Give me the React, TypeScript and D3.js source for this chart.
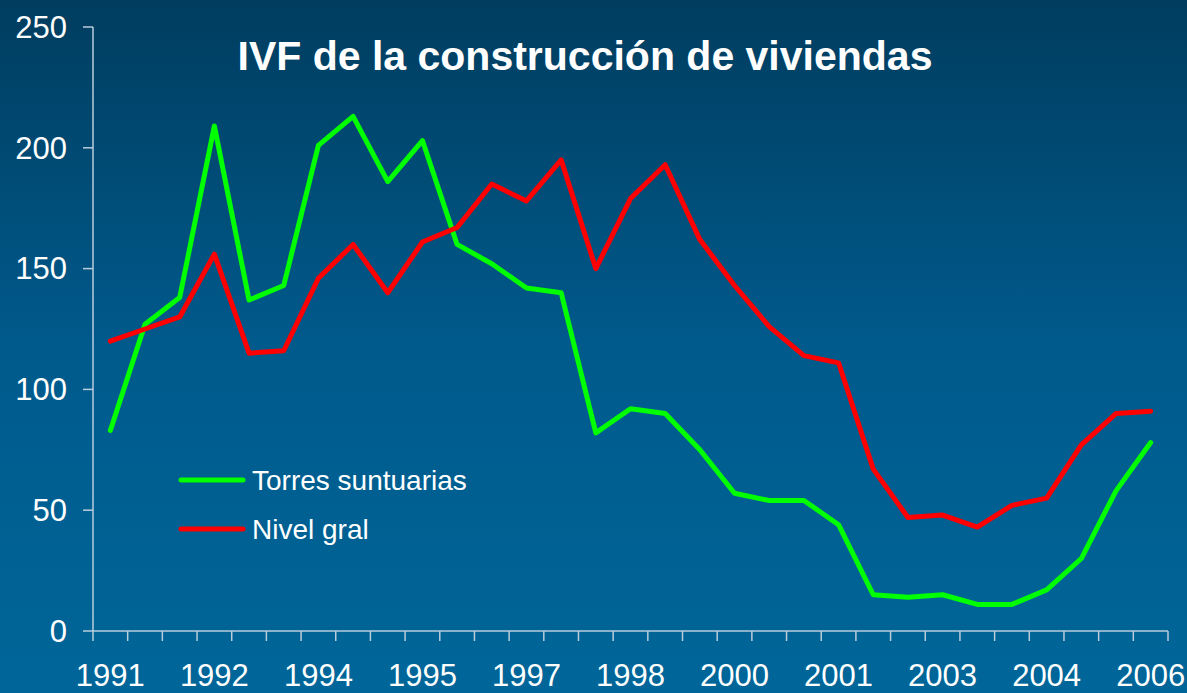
import React, { useRef, useEffect } from 'react';
import * as d3 from 'd3';

// Semester periods, 1991-I to 2006-I
const periods = [
  '1991 I', '1991 II', '1992 I', '1992 II', '1993 I', '1993 II', '1994 I', '1994 II',
  '1995 I', '1995 II', '1996 I', '1996 II', '1997 I', '1997 II', '1998 I', '1998 II',
  '1999 I', '1999 II', '2000 I', '2000 II', '2001 I', '2001 II', '2002 I', '2002 II',
  '2003 I', '2003 II', '2004 I', '2004 II', '2005 I', '2005 II', '2006 I',
];

// periods that carry a year label on the x axis
const labeledPeriods = ['1991 I', '1992 II', '1994 I', '1995 II', '1997 I', '1998 II', '2000 I', '2001 II', '2003 I', '2004 II', '2006 I'];

const torresSuntuarias = [83, 127, 138, 209, 137, 143, 201, 213, 186, 203, 160, 152, 142, 140, 82, 92, 90, 75, 57, 54, 54, 44, 15, 14, 15, 11, 11, 17, 30, 58, 78];
const nivelGral = [120, 125, 130, 156, 115, 116, 146, 160, 140, 161, 167, 185, 178, 195, 150, 179, 193, 162, 143, 126, 114, 111, 67, 47, 48, 43, 52, 55, 77, 90, 91];

const yTicks = [0, 50, 100, 150, 200, 250];

const seriesList = [
  { name: 'Torres suntuarias', values: torresSuntuarias, color: '#00ff00' },
  { name: 'Nivel gral', values: nivelGral, color: '#ff0000' },
];

const W = 1187;
const H = 693;
const FONT = '"Liberation Sans", Arial, sans-serif';
const AXIS_COLOR = '#b9cddd';

const App = () => {
  const svgRef = useRef<SVGSVGElement>(null);

  useEffect(() => {
    document.body.style.margin = '0';
    const svg = d3.select(svgRef.current);
    svg.selectAll('*').remove();

    const plot = { left: 93, right: 1168, top: 27, bottom: 631 };

    const x = d3.scaleBand<string>().domain(periods).range([plot.left, plot.right]);
    const y = d3.scaleLinear().domain([0, 250]).range([plot.bottom, plot.top]);
    const cx = (p: string) => (x(p) as number) + x.bandwidth() / 2;

    // background gradient
    const grad = svg.append('defs').append('linearGradient')
      .attr('id', 'bg').attr('x1', 0).attr('y1', 0).attr('x2', 0).attr('y2', 1);
    grad.append('stop').attr('offset', '0%').attr('stop-color', '#003d5f');
    grad.append('stop').attr('offset', '50%').attr('stop-color', '#005a8c');
    grad.append('stop').attr('offset', '100%').attr('stop-color', '#006699');
    svg.append('rect').attr('width', W).attr('height', H).attr('fill', 'url(#bg)');

    // y axis
    const yAxis = svg.append('g');
    yAxis.append('line')
      .attr('x1', plot.left).attr('x2', plot.left)
      .attr('y1', plot.top).attr('y2', plot.bottom)
      .attr('stroke', AXIS_COLOR).attr('stroke-width', 1.5);
    yAxis.selectAll('line.tick').data(yTicks).join('line')
      .attr('class', 'tick')
      .attr('x1', plot.left - 10).attr('x2', plot.left)
      .attr('y1', d => y(d)).attr('y2', d => y(d))
      .attr('stroke', AXIS_COLOR).attr('stroke-width', 1.5);
    yAxis.selectAll('text').data(yTicks).join('text')
      .attr('x', 67).attr('y', d => y(d)).attr('dy', '0.35em')
      .attr('text-anchor', 'end')
      .attr('fill', '#fff').style('font-family', FONT).style('font-size', '31px')
      .text(d => d);

    // x axis
    const xAxis = svg.append('g');
    xAxis.append('line')
      .attr('x1', plot.left).attr('x2', plot.right)
      .attr('y1', plot.bottom).attr('y2', plot.bottom)
      .attr('stroke', AXIS_COLOR).attr('stroke-width', 1.5);
    const edges = periods.map(p => x(p) as number).concat([plot.right]);
    xAxis.selectAll('line.tick').data(edges).join('line')
      .attr('class', 'tick')
      .attr('x1', d => d).attr('x2', d => d)
      .attr('y1', plot.bottom).attr('y2', plot.bottom + 10)
      .attr('stroke', AXIS_COLOR).attr('stroke-width', 1.5);
    xAxis.selectAll('text').data(labeledPeriods).join('text')
      .attr('x', d => cx(d)).attr('y', 686)
      .attr('text-anchor', 'middle')
      .attr('fill', '#fff').style('font-family', FONT).style('font-size', '31px')
      .text(d => d.split(' ')[0]);

    // lines
    const line = d3.line<number>()
      .x((_, i) => cx(periods[i]))
      .y(d => y(d));
    svg.append('g').selectAll('path').data(seriesList).join('path')
      .attr('d', d => line(d.values))
      .attr('fill', 'none')
      .attr('stroke', d => d.color)
      .attr('stroke-width', 5)
      .attr('stroke-linejoin', 'round')
      .attr('stroke-linecap', 'round');

    // title
    svg.append('text')
      .attr('x', 585).attr('y', 69.5)
      .attr('text-anchor', 'middle')
      .attr('fill', '#fff')
      .style('font-family', FONT).style('font-size', '41px').style('font-weight', 'bold')
      .text('IVF de la construcción de viviendas');

    // legend
    const legend = svg.append('g').selectAll('g').data(seriesList).join('g')
      .attr('transform', (_, i) => `translate(181,${480 + i * 49})`);
    legend.append('line')
      .attr('x1', 0).attr('x2', 62)
      .attr('stroke', d => d.color).attr('stroke-width', 5).attr('stroke-linecap', 'round');
    legend.append('text')
      .attr('x', 71).attr('y', 0).attr('dy', '0.35em')
      .attr('fill', '#fff').style('font-family', FONT).style('font-size', '28px')
      .text(d => d.name);
  }, []);

  return <svg ref={svgRef} width={W} height={H} style={{ display: 'block' }} />;
};

export default App;
